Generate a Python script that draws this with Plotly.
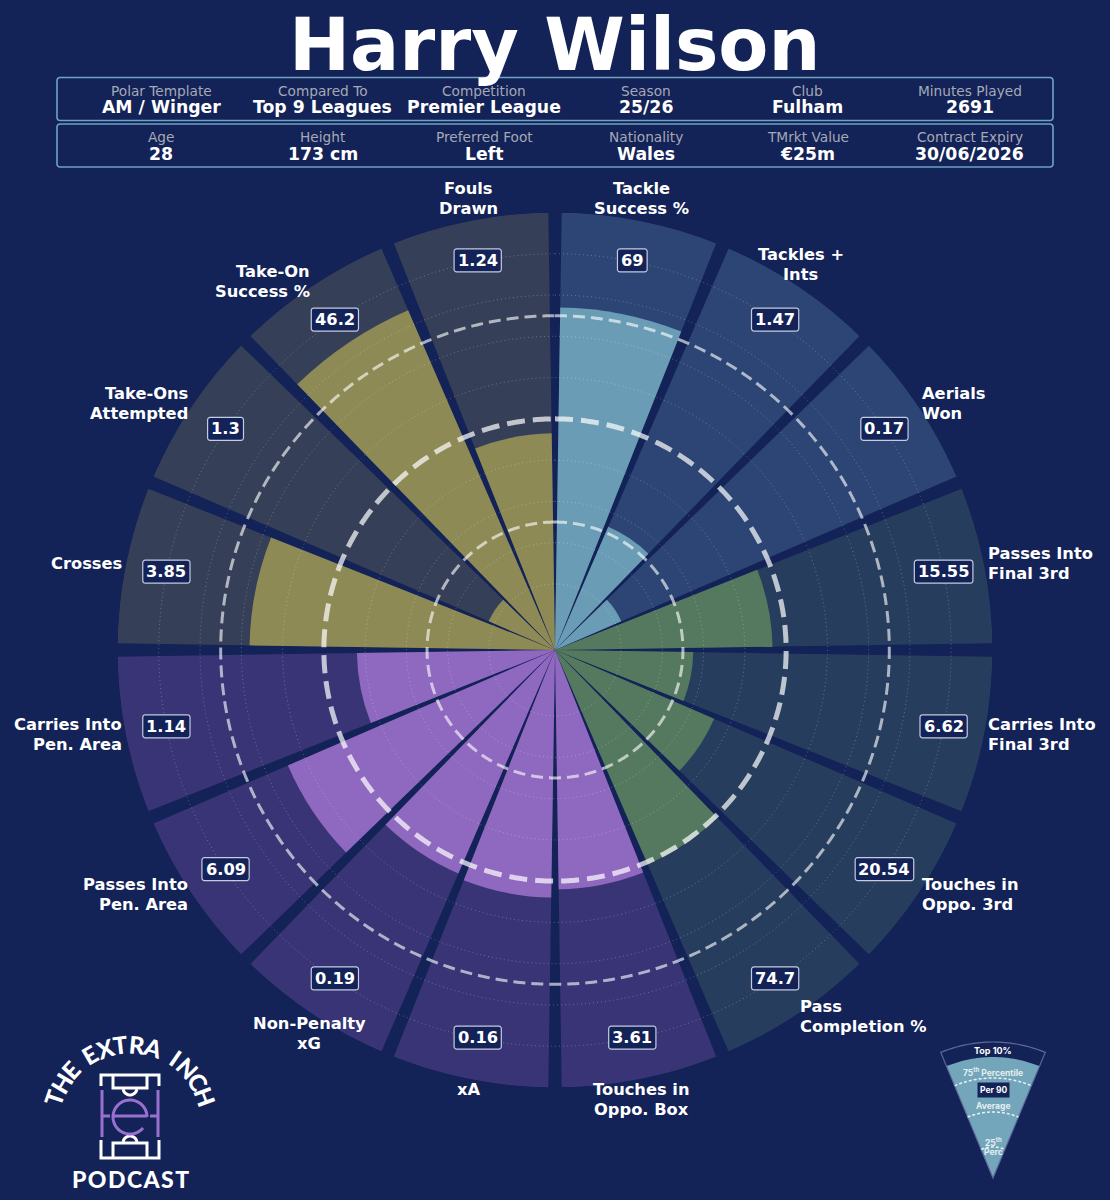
import numpy as np
import plotly.graph_objects as go

W, H = 1110, 1200
CX, CY, R_PX = 555, 650, 437.5
BG = "#132257"
FONT = "DejaVu Sans"

player = "Harry Wilson"

info_labels_1 = ["Polar Template", "Compared To", "Competition", "Season", "Club", "Minutes Played"]
info_values_1 = ["AM / Winger", "Top 9 Leagues", "Premier League", "25/26", "Fulham", "2691"]
info_labels_2 = ["Age", "Height", "Preferred Foot", "Nationality", "TMrkt Value", "Contract Expiry"]
info_values_2 = ["28", "173 cm", "Left", "Wales", "€25m", "30/06/2026"]

# clockwise from 12 o'clock
metrics = ["Tackle|Success %", "Tackles +|Ints", "Aerials|Won", "Passes Into|Final 3rd",
           "Carries Into|Final 3rd", "Touches in|Oppo. 3rd", "Pass|Completion %", "Touches in|Oppo. Box",
           "xA", "Non-Penalty|xG", "Passes Into|Pen. Area", "Carries Into|Pen. Area",
           "Crosses", "Take-Ons|Attempted", "Take-On|Success %", "Fouls|Drawn"]
per90 = ["69", "1.47", "0.17", "15.55", "6.62", "20.54", "74.7", "3.61",
         "0.16", "0.19", "6.09", "1.14", "3.85", "1.3", "46.2", "1.24"]
percentiles = [77, 26.5, 11.5, 46.7, 27.5, 36, 50.5, 52,
               54, 53, 64.5, 42, 68, 11.5, 83.7, 46.5]
groups = ["def", "def", "def", "poss", "poss", "poss", "poss", "att",
          "att", "att", "att", "att", "prog", "prog", "prog", "prog"]

back_colors = {"def": "#2c4574", "poss": "#273d5e", "att": "#383475", "prog": "#363f58"}
fill_colors = {"def": "#6a9db5", "poss": "#54795f", "att": "#8f68bf", "prog": "#8d8a56"}

# label alignment round the wheel
label_x = ["center", "center", "left", "left", "left", "left", "left", "center",
           "center", "center", "right", "right", "right", "right", "right", "center"]
label_y = ["bottom", "bottom", "middle", "middle", "middle", "middle", "middle", "top",
           "top", "top", "middle", "middle", "middle", "middle", "middle", "bottom"]

R_MIN = -6  # wheel has a small offset so percentile 0 is not at the centre
n = len(metrics)
thetas = (np.arange(n) + 0.5) * 360 / n


def px(x):
    return x / W


def py(y):
    return 1 - y / H


def polar_xy(theta, r_px):
    a = np.radians(theta)
    return CX + r_px * np.sin(a), CY - r_px * np.cos(a)


def pct_px(p):
    return (p - R_MIN) / (100 - R_MIN) * R_PX


def path_from(points, close=False):
    s = "M " + " L ".join(f"{px(x):.5f},{py(y):.5f}" for x, y in points)
    return s + (" Z" if close else "")


def arc(cx, cy, r, a0, a1, steps=40):
    # angles in degrees, clockwise from up
    a = np.radians(np.linspace(a0, a1, steps))
    return list(zip(cx + r * np.sin(a), cy - r * np.cos(a)))


def round_rect(x0, y0, x1, y1, r):
    pts = arc(x0 + r, y0 + r, r, -90, 0, 5) + arc(x1 - r, y0 + r, r, 0, 90, 5) \
        + arc(x1 - r, y1 - r, r, 90, 180, 5) + arc(x0 + r, y1 - r, r, 180, 270, 5)
    return path_from(pts, close=True)


def ring(p, width, dash, color):
    t = np.linspace(0, 360, 721)
    return go.Scatterpolar(r=np.full(t.size, p), theta=t, mode="lines", hoverinfo="skip",
                           line=dict(color=color, width=width, dash=dash), showlegend=False)


fig = go.Figure()

# background wedges
fig.add_trace(go.Barpolar(r=[100 - R_MIN] * n, theta=thetas, base=R_MIN, width=20.75,
                          marker=dict(color=[back_colors[g] for g in groups], line=dict(width=0)),
                          hoverinfo="skip", showlegend=False))
# percentile wedges
fig.add_trace(go.Barpolar(r=[p - R_MIN for p in percentiles], theta=thetas, base=R_MIN, width=20.75,
                          marker=dict(color=[fill_colors[g] for g in groups], line=dict(width=0)),
                          hoverinfo="skip", showlegend=False))

# dotted grid
for p in [10, 20, 30, 40, 60, 70, 80, 90]:
    fig.add_trace(ring(p, 1, "1px,3px", "rgba(255,255,255,0.28)"))
# benchmark rings
fig.add_trace(ring(25, 3, "12px,6px", "rgba(255,255,255,0.62)"))
fig.add_trace(ring(50, 5, "18px,8px", "rgba(255,255,255,0.7)"))
fig.add_trace(ring(75, 3, "12px,6px", "rgba(255,255,255,0.62)"))

annotations = []
shapes = []


def text(x, y, s, size, color="white", bold=False, xanchor="center", yanchor="middle", align="center",
         family=FONT, angle=0, weight="normal", **kw):
    annotations.append(dict(xref="paper", yref="paper", x=px(x), y=py(y), text=f"<b>{s}</b>" if bold else s,
                            showarrow=False, xanchor=xanchor, yanchor=yanchor, align=align, textangle=angle,
                            font=dict(family=family, size=size, color=color, weight=weight), **kw))


# title
text(555, 45, player, 73, bold=True)

# info boxes
for top, bottom, labels, values in [(77.5, 120.5, info_labels_1, info_values_1), (124, 167, info_labels_2, info_values_2)]:
    shapes.append(dict(type="path", xref="paper", yref="paper", path=round_rect(57, top, 1053, bottom, 3),
                       line=dict(color="#6fa3c4", width=1.6), layer="below"))
    for i in range(6):
        x = 161 + i * 161.7
        text(x, top + 13, labels[i], 13.7, color="#a5a9b6")
        text(x, top + 29.7, values[i], 17.3, bold=True)

# metric labels and value boxes
for i in range(n):
    lx, ly = polar_xy(thetas[i], 442)
    lines = metrics[i].split("|")
    if label_x[i] == "left":
        lx -= 3
    elif label_x[i] == "right":
        lx += 3
    if label_y[i] == "bottom":
        first = ly - 8 - 20 * (len(lines) - 1)
    elif label_y[i] == "top":
        first = ly + 6
    else:
        first = ly - 10 * (len(lines) - 1) - (1.5 if ly > CY else 0.5)
    for k, line in enumerate(lines):
        text(lx, first + 20 * k, line, 16.3, bold=True, xanchor=label_x[i])

    bx, by = polar_xy(thetas[i], pct_px(90))
    by -= 1
    # box width follows the digits, DejaVu bold advance widths
    tw = sum(0.38 if c == "." else 0.696 for c in per90[i]) * 16.3
    shapes.append(dict(type="path", xref="paper", yref="paper",
                       path=round_rect(bx - tw / 2 - 3.5, by - 11.5, bx + tw / 2 + 3.5, by + 11.5, 2.5),
                       fillcolor=BG, line=dict(color="#c5cbe0", width=1.2)))
    text(bx, by, per90[i], 16.3, bold=True)

# logo, top text on a curve
logo_text = "THE EXTRA INCH"
a = -71.0
for ch in logo_text:
    step = 5.5 if ch == " " else 11.8
    if ch != " ":
        lx = 130 + 80 * np.sin(np.radians(a))
        ly = 1124 - 80 * np.cos(np.radians(a))
        text(lx, ly, ch, 24, family="Lato", angle=a, weight=900)
    a += step
text(130, 1179, "P\u200aO\u200aD\u200aC\u200aA\u200aS\u200aT", 23, family="Lato", weight=900)

white = dict(color="white", width=3)
purple = dict(color="#9a70cf", width=3)


def logo_line(points, line):
    shapes.append(dict(type="path", xref="paper", yref="paper", path=path_from(points), line=line))


# pitch
logo_line([(101, 1086), (101, 1075), (159, 1075), (159, 1086)], white)
logo_line([(101, 1140), (101, 1158), (159, 1158), (159, 1140)], white)
logo_line([(113, 1075), (113, 1088), (147, 1088), (147, 1075)], white)
logo_line([(113, 1158), (113, 1143), (147, 1143), (147, 1158)], white)
logo_line(arc(130, 1088, 7, 100, 260, 16), white)
logo_line(arc(130, 1143, 7, -80, 80, 16), white)
# e in the middle
logo_line([(102, 1090), (102, 1137)], purple)
logo_line([(158, 1090), (158, 1137)], purple)
logo_line([(102, 1116), (110, 1116)], purple)
logo_line([(150, 1116), (158, 1116)], purple)
logo_line([(113, 1116), (147, 1116)], purple)
logo_line(arc(130, 1117, 17, 90, -230, 50), purple)

# legend wedge
ax, ay = 993, 1178
half = 22.6
shapes.append(dict(type="path", xref="paper", yref="paper", layer="below",
                   path=path_from([(ax, ay)] + arc(ax, ay, 121, -half, half), close=True),
                   fillcolor="#73a6ba", line=dict(width=0)))
shapes.append(dict(type="path", xref="paper", yref="paper", layer="below",
                   path=path_from([(ax, ay)] + arc(ax, ay, 136, -half, half), close=True),
                   line=dict(color="#5d6a9a", width=1.2)))
for r_leg in [100, 66, 31]:
    logo_line(arc(ax, ay, r_leg, -half, half), dict(color="rgba(255,255,255,0.85)", width=1.5, dash="3px,2px"))
text(ax, 1050, "Top 10%", 9, bold=True, family="Inter")
text(ax, 1072, "75<sup>th</sup> Percentile", 8.5, color="#e6eef2", bold=True, family="Inter")
text(ax, 1090, "Per 90", 8.5, bold=True, family="Inter", bgcolor=BG, borderpad=2)
text(ax, 1106, "Average", 8.5, color="#e6eef2", bold=True, family="Inter")
text(ax, 1142, "25<sup>th</sup>", 8.5, color="#e6eef2", bold=True, family="Inter")
text(ax, 1152, "Perc", 8.5, color="#e6eef2", bold=True, family="Inter")

fig.update_layout(
    width=W, height=H,
    margin=dict(l=0, r=0, t=0, b=0),
    paper_bgcolor=BG,
    showlegend=False,
    polar=dict(
        domain=dict(x=[px(CX - R_PX), px(CX + R_PX)], y=[py(CY + R_PX), py(CY - R_PX)]),
        bgcolor="rgba(0,0,0,0)",
        barmode="overlay",
        radialaxis=dict(visible=False, range=[R_MIN, 100]),
        angularaxis=dict(visible=False, direction="clockwise", rotation=90),
    ),
    annotations=annotations,
    shapes=shapes,
)

fig.write_html("out.html", config=dict(displayModeBar=False),
               post_script="document.body.style.margin='0';document.body.style.background='%s';" % BG)
